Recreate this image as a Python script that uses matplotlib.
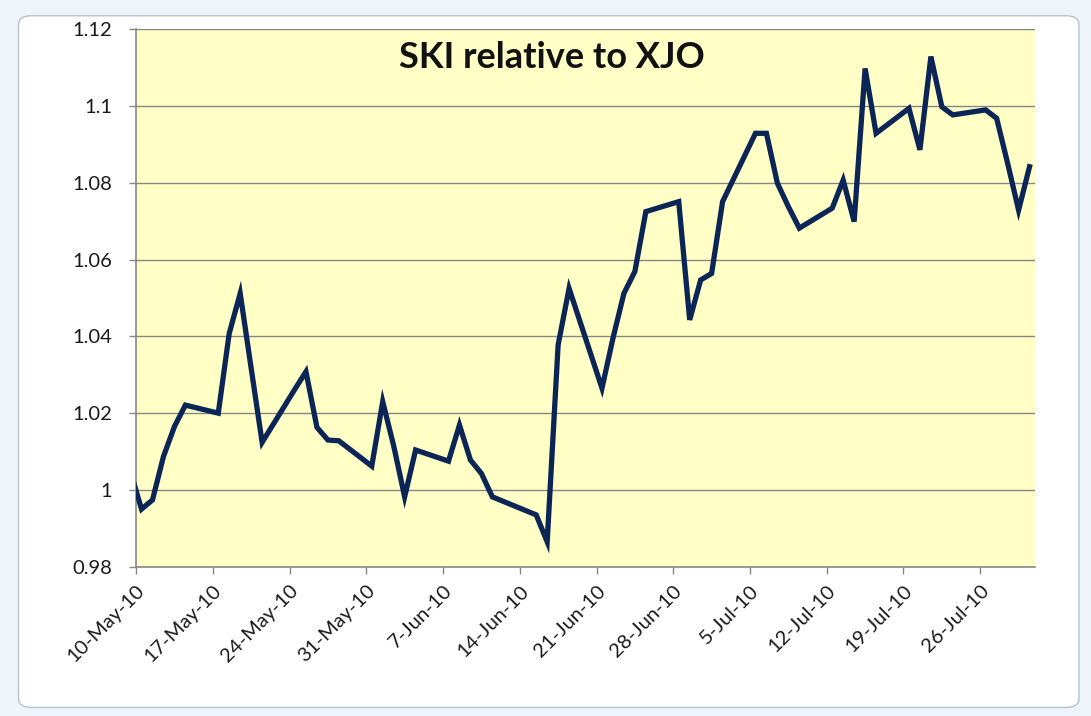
import matplotlib
matplotlib.use("Agg")
import matplotlib.pyplot as plt
import matplotlib.dates as mdates
from matplotlib.patches import FancyBboxPatch
import numpy as np

# SKI / XJO ratio, daily closes (first row sits just off the left edge of the axis)
dates = [
    "2010-05-07",
    "2010-05-10", "2010-05-11", "2010-05-12", "2010-05-13", "2010-05-14",
    "2010-05-17", "2010-05-18", "2010-05-19", "2010-05-20", "2010-05-21",
    "2010-05-24", "2010-05-25", "2010-05-26", "2010-05-27", "2010-05-28",
    "2010-05-31", "2010-06-01", "2010-06-02", "2010-06-03", "2010-06-04",
    "2010-06-07", "2010-06-08", "2010-06-09", "2010-06-10", "2010-06-11",
    "2010-06-15", "2010-06-16", "2010-06-17", "2010-06-18",
    "2010-06-21", "2010-06-22", "2010-06-23", "2010-06-24", "2010-06-25",
    "2010-06-28", "2010-06-29", "2010-06-30", "2010-07-01", "2010-07-02",
    "2010-07-05", "2010-07-06", "2010-07-07", "2010-07-08", "2010-07-09",
    "2010-07-12", "2010-07-13", "2010-07-14", "2010-07-15", "2010-07-16",
    "2010-07-19", "2010-07-20", "2010-07-21", "2010-07-22", "2010-07-23",
    "2010-07-26", "2010-07-27", "2010-07-28", "2010-07-29", "2010-07-30",
]
ratio = [
    1.024,
    0.995, 0.9974, 1.0087, 1.0165, 1.0221,
    1.0200, 1.0408, 1.0512, 1.0317, 1.0124,
    1.0263, 1.0308, 1.0163, 1.0130, 1.0128,
    1.0062, 1.0230, 1.0115, 0.9982, 1.0104,
    1.0075, 1.0169, 1.0078, 1.0043, 0.9982,
    0.9935, 0.9865, 1.0378, 1.0525,
    1.0265, 1.0395, 1.0512, 1.0569, 1.0725,
    1.0751, 1.0443, 1.0547, 1.0564, 1.0751,
    1.0929, 1.0929, 1.0799, 1.0738, 1.0682,
    1.0734, 1.0807, 1.0699, 1.1098, 1.0929,
    1.0994, 1.0886, 1.1129, 1.0998, 1.0977,
    1.0990, 1.0968, 1.0851, 1.0729, 1.0842,
]
tick_dates = ["2010-05-10", "2010-05-17", "2010-05-24", "2010-05-31", "2010-06-07",
              "2010-06-14", "2010-06-21", "2010-06-28", "2010-07-05", "2010-07-12",
              "2010-07-19", "2010-07-26"]
y_ticks = [0.98, 1.0, 1.02, 1.04, 1.06, 1.08, 1.1, 1.12]

PLOT_BG = "#FFFFC6"
GRID = "#868686"
LINE = "#0B2557"
TEXT = "#1a1a1a"

plt.rcParams["font.family"] = ["Lato", "DejaVu Sans"]

fig = plt.figure(figsize=(10.91, 7.16), dpi=100)
fig.patch.set_facecolor("#eef4f9")
# chart area: white rounded box behind the axes
fig.patches.append(FancyBboxPatch((0.017, 0.012), 0.972, 0.966,
                                  boxstyle="round,pad=0,rounding_size=0.012",
                                  transform=fig.transFigure, facecolor="white",
                                  edgecolor="#b9c2cc", linewidth=1.0, zorder=-10))

ax = fig.add_axes([0.1247, 0.2085, 0.824, 0.7506])
ax.set_zorder(1)
ax.set_facecolor(PLOT_BG)

# Excel date axis puts each point in the middle of its day slot
x = mdates.date2num(np.array(dates, dtype="datetime64[D]")) + 0.5
ax.plot(x, ratio, color=LINE, linewidth=3.8, solid_joinstyle="miter", zorder=3)

ax.set_xlim(mdates.date2num(np.datetime64("2010-05-10")),
            mdates.date2num(np.datetime64("2010-07-31")))
ax.set_ylim(0.98, 1.12)

ticks = mdates.date2num(np.array(tick_dates, dtype="datetime64[D]"))
ax.set_xticks(ticks)
ax.xaxis.set_major_formatter(mdates.DateFormatter("%-d-%b-%y"))
ax.set_yticks(y_ticks)
ax.set_yticklabels([f"{v:g}" for v in y_ticks])

for lbl in ax.get_xticklabels():
    lbl.set_rotation(45)
    lbl.set_ha("right")
    lbl.set_rotation_mode("anchor")

ax.tick_params(axis="both", direction="out", length=5, width=1, color=GRID,
               labelsize=14.5, labelcolor=TEXT)
ax.tick_params(axis="x", pad=6)
ax.tick_params(axis="y", pad=12)

ax.grid(axis="y", color=GRID, linewidth=1.0, zorder=0)
ax.set_axisbelow(True)
for s in ("top", "right"):
    ax.spines[s].set_visible(False)
for s in ("left", "bottom"):
    ax.spines[s].set_color(GRID)
    ax.spines[s].set_linewidth(1.2)

ax.text(0.463, 0.978, "SKI relative to XJO", transform=ax.transAxes,
        ha="center", va="top", fontsize=26, fontweight="bold", color="#111111")

fig.savefig("out.png", dpi=100, facecolor=fig.get_facecolor())
